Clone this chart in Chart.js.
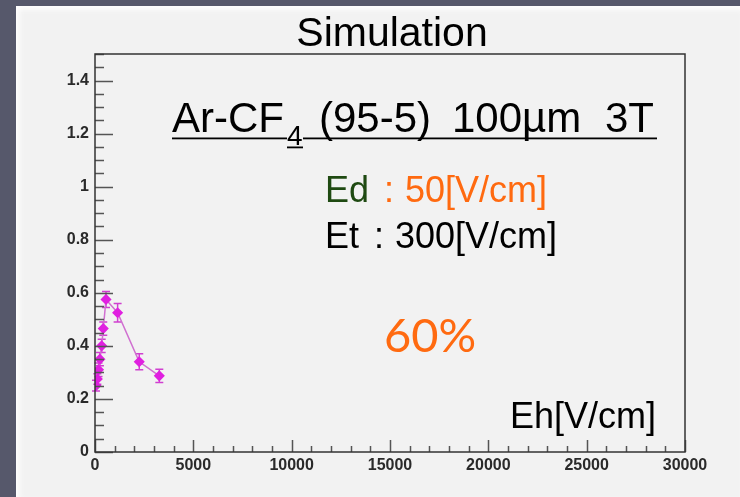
<!DOCTYPE html>
<html>
<head>
<meta charset="utf-8">
<script src="https://cdn.jsdelivr.net/npm/chart.js@4/dist/chart.umd.min.js"></script>
<style>
  html, body { margin: 0; padding: 0; }
  body { width: 740px; height: 497px; background: #56586b; position: relative; overflow: hidden; }
  #panel { position: absolute; left: 16px; top: 6px; width: 724px; height: 491px; background: #f2f2f2;
           box-shadow: inset 7px 0 6px -4px #ffffff, inset 0 7px 6px -4px #ffffff; }
  #wrap { position: absolute; left: 0; top: 0; width: 740px; height: 497px; }
</style>
</head>
<body>
<div id="panel"></div>
<div id="wrap"><canvas id="chart"></canvas></div>
<script>
// Eh [V/cm] vs efficiency
const ehValues   = [50, 120, 180, 250, 340, 420, 560, 1150, 2250, 3270]
const efficiency = [0.25, 0.275, 0.31, 0.35, 0.40, 0.465, 0.575, 0.525, 0.34, 0.287]
const effError   = [0.02, 0.02, 0.025, 0.025, 0.025, 0.025, 0.03, 0.035, 0.03, 0.025]

const xTickValues = [0, 5000, 10000, 15000, 20000, 25000, 30000]
const yTickValues = [0, 0.2, 0.4, 0.6, 0.8, 1, 1.2, 1.4]

const points = ehValues.map((x, i) => ({ x: x, y: efficiency[i] }))

// ROOT style frame + inward ticks
const frameTicks = {
  id: 'frameTicks',
  afterDraw(chart) {
    const { ctx, chartArea: a, scales: { x, y } } = chart
    ctx.save()
    ctx.strokeStyle = '#555'
    ctx.lineWidth = 1.5
    ctx.beginPath()
    for (let v = 0; v <= 30000; v += 1000) {
      const px = Math.round(x.getPixelForValue(v)) + 0.5
      const len = v % 5000 === 0 ? 12 : 6
      ctx.moveTo(px, a.bottom)
      ctx.lineTo(px, a.bottom - len)
    }
    for (let k = 0; k <= 30; k++) {
      const v = k * 0.05
      const py = Math.round(y.getPixelForValue(v)) + 0.5
      const len = k % 4 === 0 ? 18 : 9
      ctx.moveTo(a.left, py)
      ctx.lineTo(a.left + len, py)
    }
    ctx.stroke()
    ctx.strokeStyle = '#333'
    ctx.lineWidth = 1.5
    ctx.strokeRect(a.left, a.top, a.right - a.left, a.bottom - a.top)
    ctx.restore()
  }
}

const errorBars = {
  id: 'errorBars',
  beforeDatasetsDraw(chart) {
    const { ctx, scales: { x, y } } = chart
    ctx.save()
    ctx.strokeStyle = '#d040d0'
    ctx.lineWidth = 1.5
    ctx.beginPath()
    ehValues.forEach((v, i) => {
      const px = x.getPixelForValue(v)
      const top = y.getPixelForValue(efficiency[i] + effError[i])
      const bot = y.getPixelForValue(efficiency[i] - effError[i])
      ctx.moveTo(px, top); ctx.lineTo(px, bot)
      ctx.moveTo(px - 4, top); ctx.lineTo(px + 4, top)
      ctx.moveTo(px - 4, bot); ctx.lineTo(px + 4, bot)
    })
    ctx.stroke()
    ctx.restore()
  }
}

const annotations = {
  id: 'annotations',
  afterDraw(chart) {
    const ctx = chart.ctx
    const f = '"Liberation Sans", Arial, sans-serif'
    ctx.save()
    ctx.textBaseline = 'alphabetic'
    ctx.fillStyle = '#000'

    ctx.font = '41px ' + f
    ctx.textAlign = 'center'
    ctx.fillText('Simulation', 392, 46)

    ctx.textAlign = 'left'
    ctx.font = '42px ' + f
    ctx.fillText('Ar-CF', 172, 132)
    ctx.fillText('(95-5)', 319, 132)
    ctx.fillText('100µm', 452, 132)
    ctx.fillText('3T', 605, 132)
    ctx.font = '28px ' + f
    ctx.fillText('4', 287, 145)
    ctx.fillRect(172, 137.5, 115, 1.8)
    ctx.fillRect(287, 146.5, 16, 1.8)
    ctx.fillRect(303, 137.5, 354, 1.8)

    ctx.font = '36px ' + f
    ctx.fillStyle = '#1f4a12'
    ctx.fillText('Ed', 325, 202)
    ctx.fillStyle = '#ff6a10'
    ctx.fillText(':', 384, 202)
    ctx.fillText('50[V/cm]', 405, 202)
    ctx.fillStyle = '#000'
    ctx.fillText('Et', 325, 248)
    ctx.fillText(':', 374, 248)
    ctx.fillText('300[V/cm]', 395, 248)

    ctx.font = '400 47px Lato, "Open Sans", sans-serif'
    ctx.fillStyle = '#ff6a10'
    ctx.fillText('60%', 384, 352)

    ctx.font = '36px ' + f
    ctx.fillStyle = '#000'
    ctx.textAlign = 'right'
    ctx.fillText('Eh[V/cm]', 656, 428)
    ctx.restore()
  }
}

new Chart(document.getElementById('chart').getContext('2d'), {
  type: 'scatter',
  data: {
    datasets: [{
      data: points,
      showLine: true,
      borderColor: '#d070d0',
      borderWidth: 1.5,
      pointStyle: 'rectRot',
      pointRadius: 4.5,
      pointBackgroundColor: '#e020e0',
      pointBorderColor: '#e020e0',
      tension: 0
    }]
  },
  options: {
    responsive: true,
    maintainAspectRatio: false,
    animation: false,
    events: [],
    layout: { padding: { left: 20, top: 54, right: 55, bottom: 0 } },
    plugins: { legend: { display: false }, tooltip: { enabled: false } },
    scales: {
      x: {
        type: 'linear',
        min: 0,
        max: 30000,
        afterFit: (s) => { s.height = 45 },
        afterBuildTicks: (s) => { s.ticks = xTickValues.map(v => ({ value: v })) },
        grid: { display: false, drawTicks: false },
        border: { display: false },
        ticks: {
          padding: 4,
          maxRotation: 0,
          color: '#2a2a2a',
          font: { family: '"Liberation Sans", Arial, sans-serif', size: 16, weight: 'bold' },
          callback: (v) => String(v)
        }
      },
      y: {
        type: 'linear',
        min: 0,
        max: 1.5,
        afterFit: (s) => { s.width = 75 },
        afterBuildTicks: (s) => { s.ticks = yTickValues.map(v => ({ value: v })) },
        grid: { display: false, drawTicks: false },
        border: { display: false },
        ticks: {
          padding: 6,
          color: '#2a2a2a',
          font: { family: '"Liberation Sans", Arial, sans-serif', size: 16, weight: 'bold' },
          callback: (v) => String(+v.toFixed(1))
        }
      }
    }
  },
  plugins: [errorBars, frameTicks, annotations]
})
</script>
</body>
</html>
